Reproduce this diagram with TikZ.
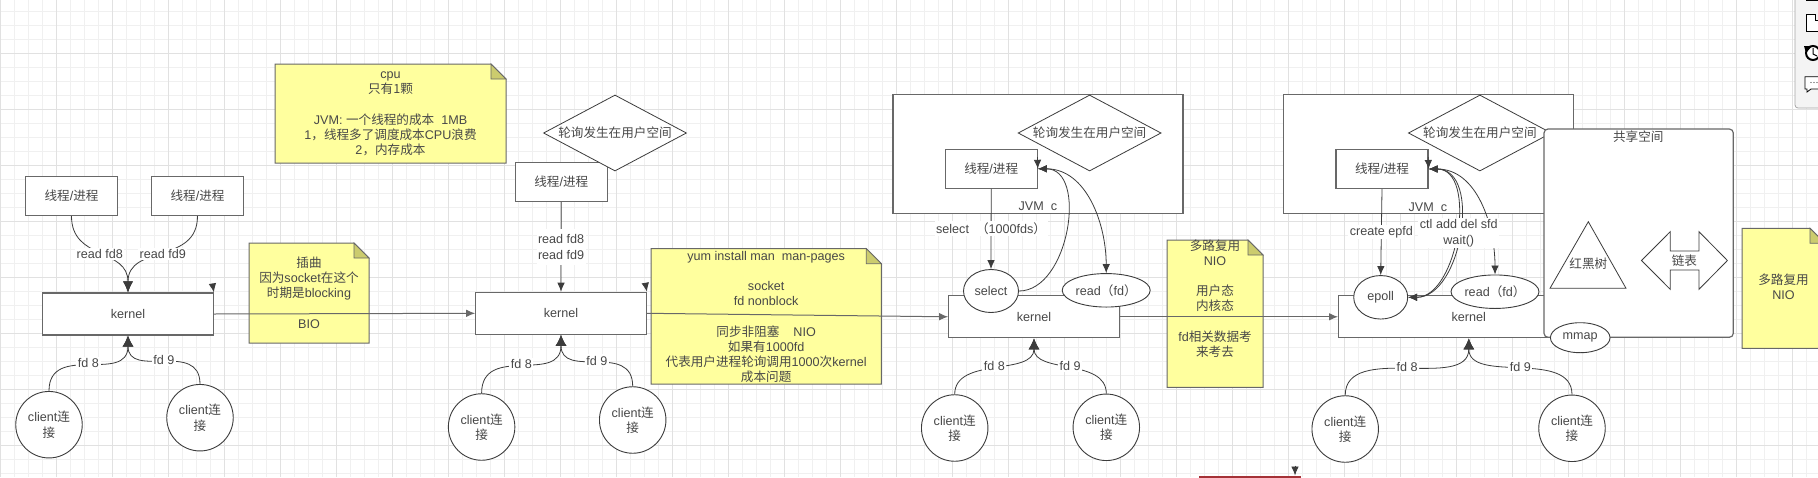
\documentclass[tikz,border=0pt]{standalone}
\usepackage{fontspec}
\usepackage{xcolor}
\setmainfont{Liberation Sans}
\newfontfamily\cjkfont{Noto Sans CJK SC}
\newcommand{\zh}[1]{{\cjkfont #1}}
\usetikzlibrary{
    shapes.geometric,
    arrows.meta,
    positioning
}
\definecolor{gridminor}{RGB}{240, 240, 240}
\definecolor{gridmajor}{RGB}{225, 225, 225}
\definecolor{linegray}{RGB}{104, 104, 104}
\definecolor{curvegray}{RGB}{60, 60, 60}
\definecolor{textgray}{RGB}{72, 72, 72}
\definecolor{noteyellow}{RGB}{255, 255, 158}
\definecolor{notefoldc}{RGB}{204, 204, 110}
\definecolor{panelgray}{RGB}{244, 244, 244}
\definecolor{redbar}{RGB}{165, 50, 55}

\tikzset{
    procbox/.style={rectangle, draw=linegray, line width=1.2pt, fill=white, minimum width=92pt, minimum height=39pt, inner sep=0pt},
    kernelbox/.style={rectangle, draw=linegray, line width=1.2pt, fill=white, minimum width=170.5pt, minimum height=42pt, inner sep=0pt},
    jvmbox/.style={rectangle, draw=linegray, line width=1.2pt, fill=white, minimum width=290pt, minimum height=119pt},
    pollnode/.style={diamond, draw=curvegray, line width=0.8pt, fill=white, aspect=1.88, inner sep=0pt, minimum width=143pt, minimum height=76pt},
    clientnode/.style={ellipse, draw=curvegray, line width=0.9pt, fill=white, minimum width=66.5pt, minimum height=66.5pt, inner sep=0pt, align=center},
    callnode/.style={ellipse, draw=curvegray, line width=0.9pt, fill=white, inner sep=0pt},
    linelabel/.style={fill=white, inner sep=1.5pt, align=center},
    arr/.style={-{Latex[length=9pt,width=7.5pt]}, curvegray, line width=0.8pt},
    bothways/.style={{Latex[length=9pt,width=7.5pt]}-{Latex[length=9pt,width=7.5pt]}, curvegray, line width=0.8pt},
    fatarr/.style={-{Latex[length=11pt,width=11pt]}, curvegray, line width=0.8pt},
    notebody/.style={draw=linegray, line width=1pt, fill=noteyellow},
    notefold/.style={draw=linegray, line width=0.8pt, fill=notefoldc},
    notetext/.style={align=center}
}

\newcommand{\yellownote}[7]{
    \draw[notebody] (#2,#3) -- ({#4-15},#3) -- (#4,{#3+15}) -- (#4,#5) -- (#2,#5) -- cycle;
    \draw[notefold] ({#4-15},#3) -- ({#4-15},{#3+15}) -- (#4,{#3+15}) -- cycle;
    \node[notetext] (#1) at ({(#2+#4)/2},#6) {#7};
}

\begin{document}
\begin{tikzpicture}[
        x=1pt, y=-1pt,
        every node/.style={font=\fontsize{12.6}{15.2}\selectfont, text=textgray}
    ]
    \clip (0,0) rectangle (1818,477);
    \fill[white] (0,0) rectangle (1818,477);
    \foreach \gx in {0,14,...,1820}
        \draw[gridminor, line width=0.8pt] (\gx+0.3,0) -- (\gx+0.3,477);
    \foreach \gy in {11,25,...,477}
        \draw[gridminor, line width=0.8pt] (0,\gy) -- (1818,\gy);
    \foreach \gx in {0,56,...,1820}
        \draw[gridmajor, line width=0.8pt] (\gx+0.3,0) -- (\gx+0.3,477);
    \foreach \gy in {53,109,...,477}
        \draw[gridmajor, line width=0.8pt] (0,\gy) -- (1818,\gy);

    \yellownote{notecpu}{275}{64}{506}{163}{114}{cpu\\\zh{只有1颗}\\[15.2pt]JVM: \zh{一个线程的成本}\ \ 1MB\\1\zh{，线程多了调度成本}CPU\zh{浪费}\\2\zh{，内存成本}}
    \yellownote{notebio}{249}{243}{369}{343}{292.5}{\zh{插曲}\\\zh{因为}socket\zh{在这个}\\\zh{时期是}blocking\\[15.2pt]BIO}
    \yellownote{noteyum}{651}{248.7}{881.3}{384}{317}{yum install man\ \ man-pages\\[15.2pt]socket\\fd nonblock\\[15.2pt]\zh{同步非阻塞}\ \ \ \ NIO\\\zh{如果有}1000fd\\\zh{代表用户进程轮询调用}1000\zh{次}kernel\\\zh{成本问题}}
    \yellownote{notemux}{1167}{240}{1263}{387.3}{298.5}{\zh{多路复用}\\NIO\\[15.2pt]\zh{用户态}\\\zh{内核态}\\[15.2pt]fd\zh{相关数据考}\\\zh{来考去}}
    \yellownote{notemuxb}{1742}{228.3}{1825}{348.3}{287}{\zh{多路复用}\\NIO}

    \node[procbox] (proc1) at (71.5,196) {\zh{线程}/\zh{进程}};
    \node[procbox] (proc2) at (197.5,196) {\zh{线程}/\zh{进程}};
    \node[kernelbox] (kern1) at (128,314) {kernel};
    \node[clientnode] (cli1) at (49,424.7) {client\zh{连}\\\zh{接}};
    \node[clientnode] (cli2) at (200,417.7) {client\zh{连}\\\zh{接}};

    \node[procbox] (proc3) at (561.3,182) {\zh{线程}/\zh{进程}};
    \node[pollnode] (poll2) at (615,133) {\zh{轮询发生在用户空间}};
    \node[kernelbox] (kern2) at (561,313.3) {kernel};
    \node[clientnode] (cli3) at (481.6,427) {client\zh{连}\\\zh{接}};
    \node[clientnode] (cli4) at (632.7,420) {client\zh{连}\\\zh{接}};

    \node[jvmbox] (jvm3) at (1038,153.7) {};
    \node (jvmtxt3) at (1037.8,206) {JVM\ \ c};
    \node[pollnode] (poll3) at (1089.6,133) {\zh{轮询发生在用户空间}};
    \node[procbox] (proc4) at (991.2,168.8) {\zh{线程}/\zh{进程}};
    \node[kernelbox] (kern3) at (1034,316.8) {kernel};
    \node[callnode, minimum width=55pt, minimum height=43pt] (sel) at (991,291) {select};
    \node[callnode, minimum width=88pt, minimum height=33.5pt] (read3) at (1106.2,290.3) {read\zh{（}fd\zh{）}};
    \node[clientnode] (cli5) at (954.7,428) {client\zh{连}\\\zh{接}};
    \node[clientnode] (cli6) at (1106.3,427.3) {client\zh{连}\\\zh{接}};

    \node[jvmbox] (jvm4) at (1428.5,154.3) {};
    \node (jvmtxt4) at (1427.8,207) {JVM\ \ c};
    \node[pollnode] (poll4) at (1479.9,133) {\zh{轮询发生在用户空间}};
    \node[procbox] (proc5) at (1382,169) {\zh{线程}/\zh{进程}};
    \node[kernelbox, minimum width=260.3pt] (kern4) at (1468.8,316.8) {kernel};
    \node[callnode, minimum width=54pt, minimum height=43.5pt] (epoll) at (1380.7,297.3) {epoll};
    \node[callnode, minimum width=88pt, minimum height=33.5pt] (read4) at (1495,291.7) {read\zh{（}fd\zh{）}};
    \node[clientnode] (cli7) at (1345.2,429) {client\zh{连}\\\zh{接}};
    \node[clientnode] (cli8) at (1572,428.3) {client\zh{连}\\\zh{接}};

    \draw[arr, -{Latex[length=11pt,width=10pt]}] (proc1.south) to[out=-90, in=90, looseness=1.2] node[linelabel] {read fd8} (kern1.north);
    \draw[arr, -{Latex[length=11pt,width=10pt]}] (proc2.south) to[out=-90, in=90, looseness=1.2] node[linelabel] {read fd9} (kern1.north);
    \draw[fatarr] (cli1.north) to[out=90, in=-90, looseness=1.3] node[linelabel] {fd 8} (kern1.south);
    \draw[fatarr] (cli2.north) to[out=90, in=-90, looseness=1.3] node[linelabel] {fd 9} (kern1.south);
    \draw[arr, linegray, line width=1pt] (kern1.east) -- (kern2.west);
    \coordinate (stub1) at (212.5,284);
    \draw[arr] (stub1) -- (kern1.north east);

    \draw[arr] (proc3.south) -- node[linelabel, inner ysep=6pt] {read fd8\\read fd9} (kern2.north);
    \draw[fatarr] (cli3.north) to[out=90, in=-90, looseness=1.3] node[linelabel] {fd 8} (kern2.south);
    \draw[fatarr] (cli4.north) to[out=90, in=-90, looseness=1.3] node[linelabel] {fd 9} (kern2.south);
    \draw[arr, linegray, line width=1pt] (kern2.east) -- (kern3.west);
    \coordinate (stub2) at (645.5,284);
    \draw[arr] (stub2) -- (kern2.north east);

    \draw[arr] (proc4.south) -- node[linelabel] {select\ \ \zh{（}1000fds\zh{）}} (sel.north);
    \draw[arr] (sel.east) to[out=0, in=0, looseness=1.04] (proc4.east);
    \draw[bothways] (proc4.east) to[out=0, in=90] (read3.north);
    \coordinate (stub3) at (1037.4,157);
    \draw[arr] (stub3) -- (proc4.east);
    \draw[fatarr] (cli5.north) to[out=90, in=-90] node[linelabel] {fd 8} (kern3.south);
    \draw[fatarr] (cli6.north) to[out=90, in=-90] node[linelabel] {fd 9} (kern3.south);
    \draw[arr, linegray, line width=1pt] (kern3.east) -- (kern4.west);

    \draw[rounded corners=4pt, linegray, line width=1.2pt, fill=white] (1544,129) rectangle (1733.3,337.3);
    \node (sharetxt) at (1638.3,136.3) {\zh{共享空间}};
    \draw[curvegray, line width=0.8pt, fill=white] (1588.3,221.7) -- (1626,288.3) -- (1550,288.3) -- cycle;
    \node (rbtree) at (1588.3,263.3) {\zh{红黑树}};
    \draw[curvegray, line width=0.8pt, fill=white] (1641.5,260.5) -- (1670.2,231.7) -- (1670.2,251) -- (1699,251) -- (1699,231.7) -- (1727.4,260.5) -- (1699,289.3) -- (1699,270) -- (1670.2,270) -- (1670.2,289.3) -- cycle;
    \node (linked) at (1684.4,260.5) {\zh{链表}};
    \node[callnode, minimum width=59.6pt, minimum height=30pt] (mmap) at (1580.2,337.7) {mmap};

    \draw[arr] (proc5.south) -- node[linelabel] {create epfd} (epoll.north);
    \draw[bothways] (proc5.east) to[out=0, in=90] (read4.north);
    \draw[bothways] (proc5.east) to[out=0, in=0, looseness=0.98] (epoll.east);
    \draw[bothways] (proc5.east) to[out=0, in=0, looseness=1.06] node[linelabel, pos=0.5] {ctl add del sfd\\wait()} (epoll.east);
    \coordinate (stub4) at (1428.2,157);
    \draw[arr] (stub4) -- (proc5.east);
    \draw[fatarr] (cli7.north) to[out=90, in=-90] node[linelabel] {fd 8} (kern4.south);
    \draw[fatarr] (cli8.north) to[out=90, in=-90] node[linelabel] {fd 9} (kern4.south);

    \coordinate (redleft) at (1199.3,476.5);
    \coordinate (redright) at (1301,476.5);
    \coordinate (redstub) at (1295,465.5);
    \draw[redbar, line width=2pt] (redleft) -- (redright);
    \draw[arr] (redstub) -- (1295,475.5);

    \draw[rounded corners=3pt, draw=gray!70, line width=0.8pt, fill=panelgray] (1795,-6) rectangle (1830,108);
    \fill[black] (1806,-1) rectangle (1820,1);
    \draw[black, line width=0.8pt, fill=white] (1806.7,14) -- (1815,14) -- (1815,20) -- (1820,20) -- (1820,31.7) -- (1806.7,31.7) -- cycle;
    \node[circle, draw=black, line width=2pt, fill=white, minimum size=14pt, inner sep=0pt] (history) at (1813,53) {};
    \fill[black] (1804,46) -- (1812,46) -- (1806,53) -- cycle;
    \draw[black, line width=1pt] (1813,48) -- (1813,54) -- (1817,56);
    \draw[black, line width=0.8pt, fill=white] (1805,76.7) -- (1820,76.7) -- (1820,89) -- (1811,89) -- (1807,92) -- (1807,89) -- (1805,89) -- cycle;
    \foreach \dx in {1811,1814,1817}
        \fill[curvegray] (\dx,82.5) circle (0.7pt);
\end{tikzpicture}
\end{document}
